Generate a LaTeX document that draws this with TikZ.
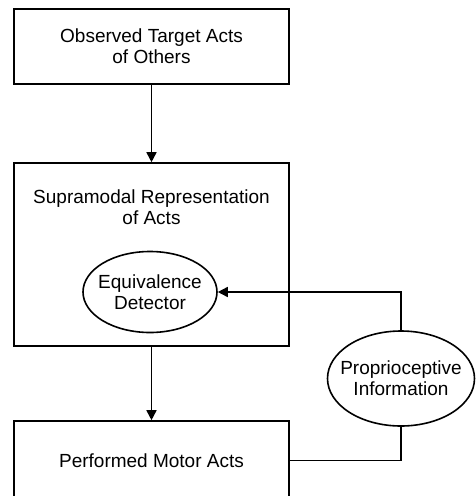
\documentclass[tikz,border=0pt]{standalone}
\usepackage{fontspec}
\setmainfont{Liberation Sans}
\usepackage{tikz}
\usetikzlibrary{arrows.meta,shapes.geometric}

\begin{document}
\begin{tikzpicture}[
  x=1pt, y=-1pt,
  font=\fontsize{19}{21}\selectfont,
  box/.style={draw, rectangle, minimum width=275pt, align=center, line width=1.6pt, inner sep=0pt},
  ell/.style={draw, ellipse, inner sep=0pt, line width=1.6pt},
  >={Triangle[length=10pt,width=10pt]},
  arrline/.style={->, line width=1.6pt},
]
\useasboundingbox (0,0) rectangle (475,496);

% ============ Boxes (left column) ============
\node[box, minimum height=75pt] (observed) at (151.5,46.5) {Observed Target Acts\\of Others};
\node[box, minimum height=183pt] (supra) at (151.5,254.5) {};
\node[align=center] (supratext) at (151.5,207) {Supramodal Representation\\of Acts};
\node[box, minimum height=79pt] (motor) at (151.5,460.5) {Performed Motor Acts};

% ============ Ellipses ============
\node[ell, minimum width=134pt, minimum height=81pt,
      label={[align=center]center:Equivalence\\Detector}] (equiv) at (150,292) {};
\node[ell, minimum width=147pt, minimum height=95pt,
      label={[align=center]center:Proprioceptive\\Information}] (proprio) at (401,378.5) {};

% ===================== ARROWS =====================
\draw[arrline] (observed.south) -- (supra.north);
\draw[arrline] (supra.south) -- (motor.north);

% feedback loop: motor acts -> proprioception -> detector
\draw[line width=1.6pt] (motor.east) -| (proprio.south);
\draw[arrline] (proprio.north) |- (equiv.east);

\end{tikzpicture}
\end{document}
